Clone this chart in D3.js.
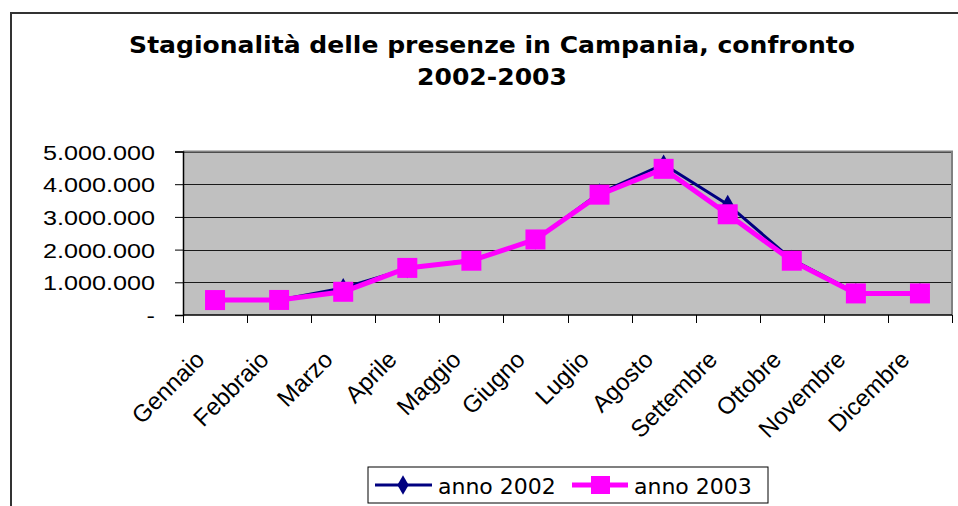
<!DOCTYPE html>
<html>
<head>
<meta charset="utf-8">
<script src="https://cdn.jsdelivr.net/npm/d3@7"></script>
<style>
  html, body { margin: 0; padding: 0; background: #fff; }
  svg { display: block; }
</style>
</head>
<body>
<svg id="chart" width="958" height="506"></svg>
<script>
// Monthly tourist presences in Campania
const months = ["Gennaio", "Febbraio", "Marzo", "Aprile", "Maggio", "Giugno",
                "Luglio", "Agosto", "Settembre", "Ottobre", "Novembre", "Dicembre"];
const anno2002 = [450000, 460000, 830000, 1420000, 1680000, 2300000,
                  3730000, 4610000, 3380000, 1700000, 680000, 680000];
const anno2003 = [457000, 460000, 710000, 1440000, 1660000, 2310000,
                  3680000, 4470000, 3080000, 1660000, 660000, 660000];
const yTicks = [0, 1000000, 2000000, 3000000, 4000000, 5000000];
const titleLines = ["Stagionalità delle presenze in Campania, confronto", "2002-2003"];
const seriesNames = ["anno 2002", "anno 2003"];

const svg = d3.select("#chart");
const plot = { left: 183, right: 952, top: 151.5, bottom: 315 };

// outer chart frame
svg.append("rect")
  .attr("x", 11).attr("y", 13).attr("width", 960).attr("height", 520)
  .attr("fill", "#fff").attr("stroke", "#333").attr("stroke-width", 2);

// title
svg.append("g").selectAll("text").data(titleLines).join("text")
  .attr("transform", (d, i) => `translate(492,${53 + i * 32}) scale(1.09,1)`)
  .attr("text-anchor", "middle")
  .attr("font-family", "'DejaVu Sans', Verdana, sans-serif")
  .attr("font-weight", "bold")
  .attr("font-size", 23)
  .attr("fill", "#000")
  .text(d => d);

const x = d3.scaleBand().domain(months).range([plot.left, plot.right]).padding(0);
const y = d3.scaleLinear().domain([0, 5000000]).range([plot.bottom, plot.top]);
const cx = m => x(m) + x.bandwidth() / 2;

// plot background
svg.append("rect")
  .attr("x", plot.left).attr("y", plot.top)
  .attr("width", plot.right - plot.left).attr("height", plot.bottom - plot.top)
  .attr("fill", "#c0c0c0");

// horizontal gridlines
svg.append("g").selectAll("line").data(yTicks.slice(1)).join("line")
  .attr("x1", plot.left).attr("x2", plot.right)
  .attr("y1", d => Math.round(y(d)) + 0.5).attr("y2", d => Math.round(y(d)) + 0.5)
  .attr("stroke", "#1a1a1a").attr("stroke-width", 1);

// plot border top/right
svg.append("path")
  .attr("d", `M${plot.left},${plot.top}H${plot.right}V${plot.bottom}`)
  .attr("fill", "none").attr("stroke", "#808080").attr("stroke-width", 2);

// y axis
const fmt = v => v === 0 ? "-" : d3.format(",")(v).replace(/,/g, ".");
const yAxis = svg.append("g").attr("transform", `translate(${plot.left},0)`)
  .call(d3.axisLeft(y).tickValues(yTicks).tickSize(8).tickFormat(fmt));
yAxis.select(".domain").attr("stroke", "#000").attr("stroke-width", 1.5);
yAxis.selectAll(".tick line").attr("stroke", "#000");
yAxis.selectAll(".tick text")
  .attr("x", null).attr("dy", "0.36em")
  .attr("transform", "translate(-28,0) scale(1.2,1)")
  .attr("font-family", "'Liberation Sans', Arial, sans-serif")
  .attr("font-size", 21).attr("fill", "#000");

// x axis: ticks between categories
const xAxis = svg.append("g").attr("transform", `translate(0,${plot.bottom})`);
xAxis.append("line")
  .attr("x1", plot.left).attr("x2", plot.right).attr("y1", 0).attr("y2", 0)
  .attr("stroke", "#000").attr("stroke-width", 1.5);
const bounds = months.map(m => x(m)).concat([plot.right]);
xAxis.selectAll("line.tk").data(bounds).join("line").attr("class", "tk")
  .attr("x1", d => Math.round(d) + 0.5).attr("x2", d => Math.round(d) + 0.5)
  .attr("y1", 0).attr("y2", 8).attr("stroke", "#000");
xAxis.selectAll("text").data(months).join("text")
  .attr("transform", d => `translate(${cx(d) - 9},46) rotate(-45)`)
  .attr("text-anchor", "end")
  .attr("font-family", "'Liberation Sans', Arial, sans-serif")
  .attr("font-size", 24).attr("fill", "#000")
  .text(d => d);

// series
const line = d3.line().x((d, i) => cx(months[i])).y(d => y(d));
const diamond = d3.symbol().type(d3.symbolDiamond).size(110);

svg.append("path").datum(anno2002).attr("d", line)
  .attr("fill", "none").attr("stroke", "#000080").attr("stroke-width", 3)
  .attr("stroke-linejoin", "round");
svg.append("g").selectAll("path").data(anno2002).join("path")
  .attr("transform", (d, i) => `translate(${cx(months[i])},${y(d)})`)
  .attr("d", diamond).attr("fill", "#000080");

svg.append("path").datum(anno2003).attr("d", line)
  .attr("fill", "none").attr("stroke", "#ff00ff").attr("stroke-width", 5)
  .attr("stroke-linejoin", "round");
svg.append("g").selectAll("rect").data(anno2003).join("rect")
  .attr("x", (d, i) => cx(months[i]) - 10).attr("y", d => y(d) - 10)
  .attr("width", 20).attr("height", 20).attr("fill", "#ff00ff");

// legend
const lg = svg.append("g");
lg.append("rect").attr("x", 368).attr("y", 467).attr("width", 400).attr("height", 36)
  .attr("fill", "#fff").attr("stroke", "#000").attr("stroke-width", 1);
lg.append("line").attr("x1", 375).attr("x2", 432).attr("y1", 485).attr("y2", 485)
  .attr("stroke", "#000080").attr("stroke-width", 3);
lg.append("path").attr("transform", "translate(403,485)").attr("d", diamond).attr("fill", "#000080");
lg.append("line").attr("x1", 572).attr("x2", 628).attr("y1", 485).attr("y2", 485)
  .attr("stroke", "#ff00ff").attr("stroke-width", 5);
lg.append("rect").attr("x", 591).attr("y", 476).attr("width", 19).attr("height", 18).attr("fill", "#ff00ff");
lg.selectAll("text").data(seriesNames).join("text")
  .attr("x", (d, i) => i === 0 ? 438 : 634).attr("y", 494)
  .attr("font-family", "'DejaVu Sans', Verdana, sans-serif")
  .attr("font-size", 22).attr("fill", "#000")
  .text(d => d);
</script>
</body>
</html>
